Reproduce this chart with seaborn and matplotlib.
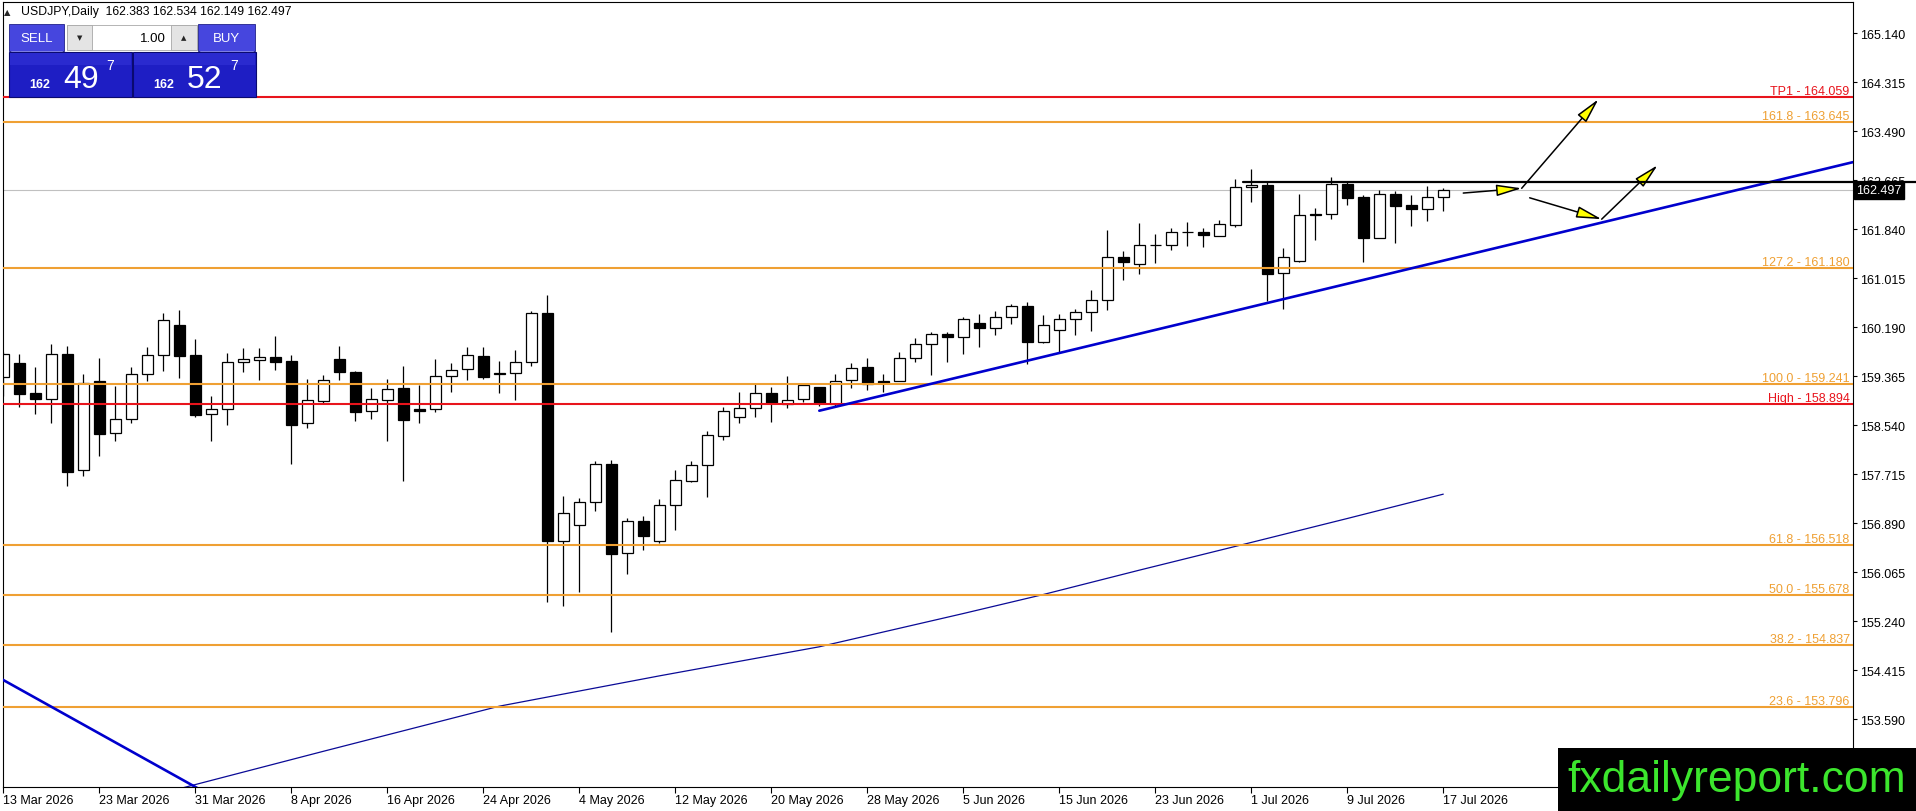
import numpy as np
import pandas as pd
import matplotlib
matplotlib.use('Agg')
import matplotlib.pyplot as plt
import matplotlib.transforms as mtransforms
from matplotlib.patches import Rectangle
import seaborn as sns

# ---- data ----
symbol_title = 'USDJPY,Daily'
bid = 162.497
ask = 162.527
lot = '1.00'

opens = [159.347, 159.588, 159.083, 158.987, 159.740, 157.781, 159.279, 158.404, 158.639, 159.397,
         159.717, 160.222, 159.723, 158.724, 158.808, 159.599, 159.633, 159.689, 159.621, 158.572,
         158.953, 159.655, 159.436, 158.774, 158.970, 159.167, 158.813, 158.808, 159.364, 159.481,
         159.706, 159.425, 159.415, 159.600, 160.425, 156.596, 156.866, 157.242, 157.882, 156.383,
         156.922, 156.596, 157.191, 157.607, 157.865, 158.364, 158.673, 158.825, 159.077, 158.898,
         158.976, 159.178, 158.898, 159.296, 159.515, 159.279, 159.291, 159.667, 159.903, 160.071,
         160.021, 160.262, 160.172, 160.357, 160.548, 159.936, 160.139, 160.324, 160.442, 160.644,
         161.368, 161.261, 161.574, 161.570, 161.790, 161.794, 161.721, 161.918, 162.547, 162.586,
         161.098, 161.300, 162.090, 162.092, 162.603, 162.378, 161.688, 162.434, 162.249, 162.176,
         162.383]
highs = [159.780, 159.739, 159.526, 159.908, 159.874, 159.403, 159.672, 159.201, 159.521, 159.857,
         160.430, 160.480, 159.992, 159.032, 159.756, 159.841, 159.841, 160.043, 159.723, 159.318,
         159.386, 159.874, 159.453, 159.167, 159.318, 159.543, 159.218, 159.655, 159.588, 159.857,
         159.858, 159.622, 159.807, 160.459, 160.734, 157.343, 157.309, 157.943, 157.949, 156.972,
         157.006, 157.292, 157.786, 157.932, 158.437, 158.853, 159.100, 159.235, 159.178, 159.364,
         159.235, 159.190, 159.403, 159.588, 159.667, 159.403, 159.768, 160.009, 160.104, 160.104,
         160.369, 160.414, 160.458, 160.582, 160.610, 160.397, 160.414, 160.492, 160.818, 161.828,
         161.474, 161.946, 161.755, 161.856, 161.963, 161.856, 161.991, 162.687, 162.855, 162.631,
         161.525, 162.434, 162.193, 162.715, 162.631, 162.423, 162.496, 162.479, 162.423, 162.569,
         162.534]
lows = [159.038, 158.853, 158.729, 158.583, 157.522, 157.691, 158.028, 158.280, 158.583, 159.290,
        159.459, 159.341, 158.673, 158.280, 158.550, 159.442, 159.307, 159.476, 157.887, 158.499,
        158.914, 159.307, 158.617, 158.651, 158.280, 157.607, 158.572, 158.757, 159.105, 159.307,
        159.319, 159.083, 158.971, 159.532, 155.569, 155.502, 155.738, 157.102, 155.053, 156.035,
        156.445, 156.557, 156.782, 157.579, 157.337, 158.297, 158.583, 158.684, 158.600, 158.825,
        158.926, 158.870, 158.858, 159.173, 159.128, 159.105, 159.280, 159.599, 159.392, 159.610,
        159.746, 159.864, 160.066, 160.251, 159.566, 159.920, 159.768, 160.066, 160.127, 160.487,
        160.992, 161.087, 161.278, 161.497, 161.564, 161.547, 161.721, 161.884, 162.305, 160.638,
        160.503, 161.295, 161.665, 162.019, 162.255, 161.295, 161.688, 161.615, 161.901, 161.985,
        162.149]
closes = [159.740, 159.072, 158.987, 159.740, 157.758, 159.251, 158.398, 158.639, 159.397, 159.717,
          160.306, 159.711, 158.718, 158.808, 159.599, 159.655, 159.683, 159.610, 158.550, 158.959,
          159.296, 159.442, 158.768, 158.976, 159.145, 158.634, 158.785, 159.369, 159.465, 159.717,
          159.358, 159.410, 159.600, 160.425, 156.596, 157.057, 157.242, 157.882, 156.377, 156.922,
          156.681, 157.191, 157.612, 157.865, 158.370, 158.774, 158.825, 159.077, 158.920, 158.971,
          159.212, 158.914, 159.291, 159.510, 159.235, 159.257, 159.667, 159.903, 160.071, 160.030,
          160.324, 160.172, 160.357, 160.543, 159.936, 160.228, 160.324, 160.447, 160.644, 161.368,
          161.295, 161.570, 161.570, 161.789, 161.788, 161.749, 161.923, 162.547, 162.586, 161.093,
          161.368, 162.075, 162.086, 162.597, 162.373, 161.699, 162.429, 162.238, 162.176, 162.378,
          162.497]

date_ticks = [0, 6, 12, 18, 24, 30, 36, 42, 48, 54, 60, 66, 72, 78, 84, 90]
date_labels = ['13 Mar 2026', '23 Mar 2026', '31 Mar 2026', '8 Apr 2026', '16 Apr 2026',
               '24 Apr 2026', '4 May 2026', '12 May 2026', '20 May 2026', '28 May 2026',
               '5 Jun 2026', '15 Jun 2026', '23 Jun 2026', '1 Jul 2026', '9 Jul 2026',
               '17 Jul 2026']
price_ticks = [165.140, 164.315, 163.490, 162.665, 161.840, 161.015, 160.190, 159.365,
               158.540, 157.715, 156.890, 156.065, 155.240, 154.415, 153.590]

level_names = ['TP1', '161.8', '127.2', '100.0', 'High', '61.8', '50.0', '38.2', '23.6']
level_values = [164.059, 163.645, 161.180, 159.241, 158.894, 156.518, 155.678, 154.837, 153.796]

ma_bars = [11, 20, 31, 41, 51, 60, 65, 71, 77, 84, 90]
ma_values = [152.42, 153.05, 153.81, 154.32, 154.81, 155.37, 155.69, 156.10, 156.50, 156.97, 157.38]

support_bars = [51, 115.6]
support_prices = [158.785, 162.97]
old_trend_bars = [-1, 13]
old_trend_prices = [154.40, 152.30]
resist_bars = [77.5, 120]
resist_prices = [162.642, 162.642]

arrow_tails = [(91.25, 162.45), (94.9, 162.53), (95.4, 162.37), (99.9, 162.01)]
arrow_heads = [(94.9, 162.53), (99.7, 164.03), (99.9, 162.01), (103.4, 162.92)]

# ---- styling ----
sns.set_style('white')
plt.rcParams['font.family'] = ['Liberation Sans', 'DejaVu Sans']

ORANGE = '#EFA033'
RED = '#E8141C'
W, H = 1916, 812

fig = plt.figure(figsize=(W / 100, H / 100), dpi=100)
ax = fig.add_axes([2.7 / W, 24 / H, 1850 / W, 785.3 / H])

df = pd.DataFrame({'bar': np.arange(len(opens)), 'open': opens, 'high': highs,
                   'low': lows, 'close': closes})
bull = df[df.close >= df.open]
bear = df[df.close < df.open]

ax.axhline(bid, color='#C0C0C0', lw=0.8, zorder=1)
ax.vlines(df.bar, df.low, df.high, color='black', lw=0.9, zorder=2)
ax.bar(bull.bar, bull.close - bull.open, bottom=bull.open, width=0.66,
       color='white', edgecolor='black', lw=0.9, zorder=2.2)
ax.bar(bear.bar, bear.open - bear.close, bottom=bear.close, width=0.66,
       color='black', edgecolor='black', lw=0.9, zorder=2.2)

sns.lineplot(x=ma_bars, y=ma_values, ax=ax, color='#0A0A96', lw=0.9, zorder=3)

trans = mtransforms.blended_transform_factory(ax.transAxes, ax.transData)
for name, val in zip(level_names, level_values):
    col = RED if name in ('TP1', 'High') else ORANGE
    ax.axhline(val, color=col, lw=1.5, zorder=3.2)
    ax.text(0.9984, val, f'{name} - {val:.3f}', transform=trans, ha='right', va='bottom',
            fontsize=9, color=col, zorder=3.3)

ax.plot(support_bars, support_prices, color='#0000CD', lw=1.9, zorder=4)
ax.plot(old_trend_bars, old_trend_prices, color='#0000CD', lw=1.9, zorder=4)
ax.plot(resist_bars, resist_prices, color='black', lw=1.6, zorder=6, clip_on=False)

for tail, head in zip(arrow_tails, arrow_heads):
    ax.annotate('', xy=head, xytext=tail,
                arrowprops=dict(arrowstyle='-|>,head_length=1.4,head_width=0.32',
                                fc='#FFFF00', ec='black', lw=1.1,
                                mutation_scale=11, shrinkA=0, shrinkB=0),
                zorder=5)

ax.set_xlim(-0.04, 115.59)
ax.set_ylim(152.449, 165.672)
ax.set_xticks(date_ticks)
ax.set_xticklabels(date_labels, ha='left')
ax.set_yticks(price_ticks)
ax.set_yticklabels([f'{p:.3f}' for p in price_ticks])
ax.yaxis.tick_right()
ax.tick_params(axis='y', left=False, right=True, labelleft=False, labelright=True,
               direction='out', length=3, width=0.8, pad=2, labelsize=9, colors='black')
ax.tick_params(axis='x', bottom=True, direction='out', length=4, width=0.8, pad=1,
               labelsize=9, colors='black')
for sp in ax.spines.values():
    sp.set_visible(True)
    sp.set_color('black')
    sp.set_linewidth(0.8)
ax.set_xlabel('')
ax.set_ylabel('')

# current price box on the axis
ax.text(1.0018, bid, f'{bid:.3f}', transform=trans, ha='left', va='center', fontsize=9,
        color='white', zorder=7, clip_on=False,
        bbox=dict(boxstyle='square,pad=0.18', fc='black', ec='black'))

# ---- overlay in pixel coordinates: header, trade panel, logo ----
ov = fig.add_axes([0, 0, 1, 1], zorder=10)
ov.set_xlim(0, W)
ov.set_ylim(H, 0)
ov.set_facecolor('none')
ov.axis('off')

ov.text(7.5, 12.5, '\u25b2', fontsize=6, ha='center', va='center', family='DejaVu Sans')
ov.text(21, 12.5, f'{symbol_title}  {162.383:.3f} {162.534:.3f} {162.149:.3f} {bid:.3f}',
        fontsize=8.8, ha='left', va='center', color='black')

# buttons row
ov.add_patch(Rectangle((9, 25), 55, 27, fc='#4646DE', ec='#20208A', lw=0.6))
ov.plot([11, 62], [51.5, 51.5], color='#8C8CF0', lw=0.6)
ov.text(36.5, 38.5, 'SELL', color='white', fontsize=9.5, ha='center', va='center')
ov.add_patch(Rectangle((198, 25), 57, 27, fc='#4646DE', ec='#20208A', lw=0.6))
ov.plot([200, 253], [51.5, 51.5], color='#8C8CF0', lw=0.6)
ov.text(226.5, 38.5, 'BUY', color='white', fontsize=9.5, ha='center', va='center')
ov.add_patch(Rectangle((67, 26), 130, 25, fc='white', ec='#A8A8A8', lw=0.6))
ov.add_patch(Rectangle((67, 26), 25, 25, fc='#E4E4E4', ec='#A8A8A8', lw=0.6))
ov.add_patch(Rectangle((171, 26), 26, 25, fc='#E4E4E4', ec='#A8A8A8', lw=0.6))
ov.text(79.5, 38.5, '\u25bc', fontsize=5, ha='center', va='center', family='DejaVu Sans')
ov.text(184, 38, '\u25b2', fontsize=5, ha='center', va='center', family='DejaVu Sans')
ov.text(166, 38.5, lot, fontsize=9.5, ha='right', va='center', color='black')

# price panels
for x0, price in [(9, bid), (133, ask)]:
    s = f'{price:.3f}'
    big_fig, pip_frac = s[4:6], s[6]
    ov.add_patch(Rectangle((x0, 53), 123, 45, fc='#1E1EC4', ec='#0A0A70', lw=0.8))
    ov.add_patch(Rectangle((x0 + 1, 54), 121, 12, fc='#2A2ACF', ec='none'))
    ov.text(x0 + 31, 88, s[:3], fontsize=9, fontweight='bold', color='white',
            ha='center', va='baseline')
    ov.text(x0 + 72, 88, big_fig, fontsize=23, color='white', ha='center', va='baseline')
    ov.text(x0 + 101, 70, pip_frac, fontsize=10, color='white', ha='center', va='baseline')

# logo
ov.add_patch(Rectangle((1558, 749), 358, 63, fc='black', ec='none'))
ov.text(1737, 781, 'fxdailyreport.com', fontsize=32, color='#3CE62D', ha='center', va='center')

fig.savefig('out.png', dpi=100, facecolor='white')
